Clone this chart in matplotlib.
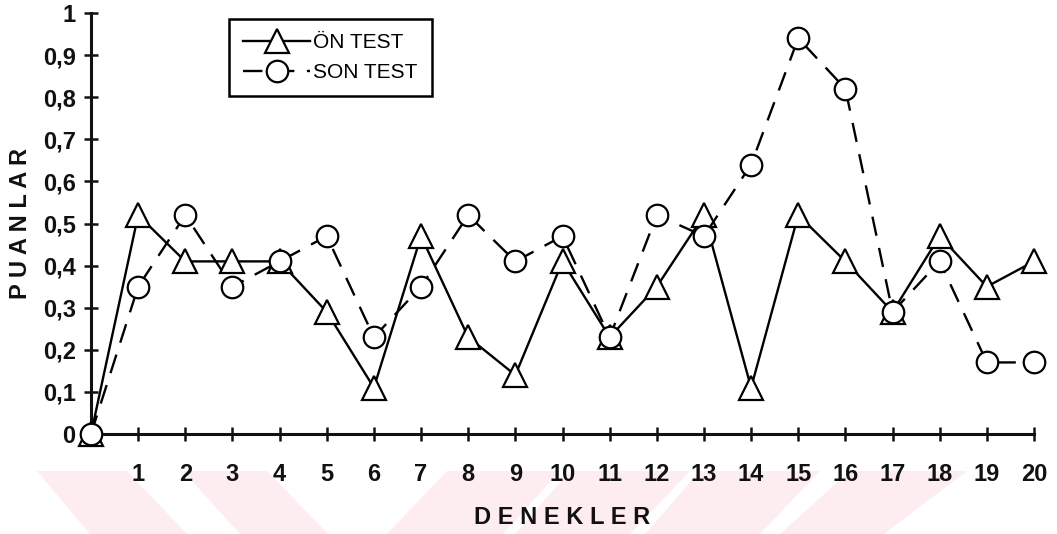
import matplotlib
matplotlib.use('Agg')
import matplotlib.pyplot as plt
from matplotlib.patches import Polygon

plt.rcParams['font.family'] = ['Liberation Sans', 'DejaVu Sans']
plt.rcParams['lines.scale_dashes'] = False

# data
denekler = list(range(0, 21))
on_test = [0, 0.52, 0.41, 0.41, 0.41, 0.29, 0.11, 0.47, 0.23, 0.14, 0.41,
           0.23, 0.35, 0.52, 0.11, 0.52, 0.41, 0.29, 0.47, 0.35, 0.41]
son_test = [0, 0.35, 0.52, 0.35, 0.41, 0.47, 0.23, 0.35, 0.52, 0.41, 0.47,
            0.23, 0.52, 0.47, 0.64, 0.94, 0.82, 0.29, 0.41, 0.17, 0.17]
y_ticks = [0, 0.1, 0.2, 0.3, 0.4, 0.5, 0.6, 0.7, 0.8, 0.9, 1.0]
y_tick_labels = ['0', '0,1', '0,2', '0,3', '0,4', '0,5', '0,6', '0,7', '0,8', '0,9', '1']
x_ticks = list(range(1, 21))

W, H = 1057, 534
fig = plt.figure(figsize=(W / 100, H / 100), dpi=100, facecolor='white')

# faint pink watermark strips at the bottom (pixel coords, y from top)
bg = fig.add_axes([0, 0, 1, 1])
bg.set_xlim(0, W)
bg.set_ylim(H, 0)
bg.axis('off')
strips = [
    [(37, 471), (127, 471), (187, 534), (90, 534)],
    [(183, 471), (267, 471), (328, 534), (240, 534)],
    [(447, 471), (560, 471), (503, 534), (387, 534)],
    [(570, 471), (690, 471), (630, 534), (515, 534)],
    [(700, 471), (820, 471), (760, 534), (645, 534)],
    [(850, 471), (967, 471), (884, 534), (780, 534)],
]
for pts in strips:
    bg.add_patch(Polygon(pts, closed=True, facecolor='#fdedf0', edgecolor='none'))

ax = fig.add_axes([91 / W, (H - 434) / H, 943 / W, 421 / H])
ax.patch.set_alpha(0)

ax.plot(denekler, on_test, color='black', linewidth=1.7, linestyle='-',
        marker='^', markersize=17, markerfacecolor='white',
        markeredgecolor='black', markeredgewidth=1.6, clip_on=False,
        zorder=3, label='ÖN TEST')
ax.plot(denekler, son_test, color='black', linewidth=1.7, dashes=(14, 9),
        marker='o', markersize=15.5, markerfacecolor='white',
        markeredgecolor='black', markeredgewidth=1.6, clip_on=False,
        zorder=4, label='SON TEST')

ax.set_xlim(0, 20)
ax.set_ylim(0, 1)
for side in ['top', 'right']:
    ax.spines[side].set_visible(False)
for side in ['left', 'bottom']:
    ax.spines[side].set_linewidth(2.2)
    ax.spines[side].set_color('#111111')

ax.set_xticks(x_ticks)
ax.set_xticklabels([str(v) for v in x_ticks])
ax.set_yticks(y_ticks)
ax.set_yticklabels(y_tick_labels)
ax.tick_params(axis='both', direction='inout', length=10, width=1.8,
               colors='#111111', labelsize=17)
ax.tick_params(axis='x', pad=16)
ax.tick_params(axis='y', pad=6)
for lab in ax.get_xticklabels() + ax.get_yticklabels():
    lab.set_fontweight('bold')

ax.set_xlabel('D E N E K L E R', fontsize=17, fontweight='bold',
              color='#111111', labelpad=14)
ax.set_ylabel('P U A N L A R', fontsize=17, fontweight='bold',
              color='#111111', labelpad=8)

leg = ax.legend(loc='upper left', bbox_to_anchor=(0.146, 0.986),
                borderaxespad=0, numpoints=1, handlelength=3.2,
                fontsize=15, fancybox=False, framealpha=1,
                edgecolor='black', labelspacing=0.5, handletextpad=0.15,
                borderpad=0.7)
leg.get_frame().set_linewidth(1.8)

fig.savefig('out.png', dpi=100, facecolor='white')
